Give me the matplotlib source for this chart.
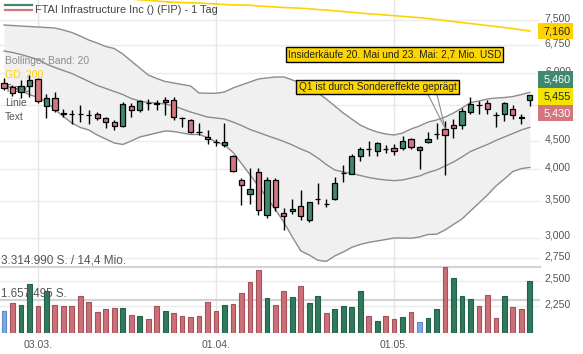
import numpy as np
import matplotlib
matplotlib.use('Agg')
import matplotlib.pyplot as plt
from matplotlib.patches import Rectangle
from matplotlib.lines import Line2D

plt.rcParams['font.family'] = ['Liberation Sans', 'DejaVu Sans']

W, H = 583, 354

# daily candles, 25.02. - 23.05.
opens = [5748, 5667, 5530, 5690, 5850, 5230, 5410, 5065, 5055, 5045, 5030, 5040, 4960, 4890, 4810, 5220,
         5140, 5295, 5280, 5310, 5350, 4962, 4923, 4688, 4590, 4485, 4430, 4230, 3825, 3606, 3955, 3301,
         3830, 3330, 3360, 3430, 3232, 3525, 3460, 3531, 3935, 3930, 4240, 4358, 4320, 4358, 4370, 4370,
         4540, 4345, 4490, 4648, 4740, 4821, 4821, 5095, 5248, 5290, 5032, 5040, 5160, 4978, 5345]
highs = [5876, 5707, 5827, 5950, 5870, 5500, 5550, 5150, 5140, 5245, 5135, 5095, 4990, 4923, 5310, 5290,
         5356, 5375, 5356, 5420, 5430, 4990, 4935, 4856, 4721, 4550, 4856, 4249, 3850, 4020, 4020, 3880,
         3850, 3400, 3525, 3667, 3490, 3780, 3530, 3870, 4080, 4270, 4400, 4510, 4485, 4430, 4445, 4600,
         4570, 4410, 4690, 4856, 4900, 4940, 5170, 5430, 5330, 5356, 5095, 5310, 5245, 5060, 5470]
lows = [5587, 5450, 5405, 5430, 5300, 4960, 5093, 4990, 4850, 4890, 4850, 4923, 4770, 4721, 4790, 4990,
        5090, 5135, 5135, 5028, 4923, 4780, 4670, 4622, 4450, 4420, 4390, 3950, 3440, 3455, 3301, 3255,
        3360, 3099, 3320, 3230, 3210, 3455, 3410, 3516, 3800, 3920, 4150, 4225, 4225, 4290, 4250, 4340,
        4350, 4010, 4460, 4545, 3906, 4560, 4740, 5060, 5040, 5060, 4790, 4905, 4940, 4850, 5220]
closes = [5627, 5507, 5683, 5827, 5327, 5410, 5135, 5058, 5048, 5040, 5025, 4960, 4880, 4810, 5265, 5140,
          5340, 5290, 5275, 5350, 4990, 4955, 4690, 4680, 4540, 4480, 4495, 3975, 3745, 3680, 3371, 3830,
          3410, 3290, 3385, 3280, 3480, 3530, 3455, 3780, 3940, 4240, 4360, 4355, 4470, 4355, 4320, 4510,
          4400, 4400, 4545, 4650, 4622, 4755, 5120, 5265, 5245, 5160, 5028, 5290, 5028, 4975, 5460]
volume_mio = [1.11, 1.49, 1.39, 2.45, 1.36, 2.09, 1.41, 1.36, 1.36, 1.86, 1.58, 1.08, 1.21, 1.24, 1.26, 0.91,
              0.88, 0.71, 1.36, 1.11, 1.00, 0.86, 0.83, 0.86, 1.56, 1.11, 1.41, 1.44, 1.99, 2.55, 3.15, 1.74,
              1.41, 2.12, 1.81, 2.37, 1.53, 1.87, 1.00, 1.21, 1.36, 1.29, 2.11, 0.86, 0.61, 0.86, 0.71, 0.81,
              1.06, 0.56, 0.75, 1.23, 3.28, 2.74, 1.87, 1.71, 1.36, 1.91, 0.78, 1.86, 1.33, 1.21, 2.60]

# Bollinger band (20) and GD 200
bb_upper = [7344, 7329, 7313, 7298, 7283, 7267, 7252, 7191, 7116, 7011, 6894, 6808, 6709, 6653, 6501, 6312,
            6129, 5951, 5864, 5791, 5754, 5718, 5682, 5517, 5510, 5510, 5540, 5634, 5706, 5778, 5852, 5876,
            5901, 5901, 5827, 5754, 5634, 5517, 5379, 5223, 5071, 4944, 4821, 4741, 4681, 4642, 4622, 4661,
            4741, 4801, 4882, 4923, 4985, 5071, 5179, 5300, 5334, 5379, 5401, 5412, 5435, 5481, 5531]
bb_middle = [6583, 6542, 6487, 6419, 6351, 6232, 6142, 6064, 5989, 5889, 5791, 5694, 5623, 5552, 5482, 5390,
             5334, 5301, 5289, 5267, 5223, 5157, 5092, 5039, 4986, 4965, 4944, 4882, 4811, 4731, 4672, 4612,
             4555, 4498, 4432, 4358, 4295, 4196, 4083, 3989, 3956, 3931, 3898, 3866, 3841, 3825, 3814, 3825,
             3857, 3890, 3948, 3989, 4057, 4126, 4214, 4313, 4377, 4441, 4517, 4584, 4652, 4721, 4775]
bb_lower = [5706, 5635, 5564, 5482, 5413, 5312, 5146, 4997, 4862, 4771, 4721, 4622, 4545, 4470, 4441, 4507,
            4584, 4622, 4662, 4701, 4691, 4662, 4632, 4632, 4574, 4488, 4432, 4296, 4100, 3911, 3729, 3549,
            3378, 3202, 3009, 2837, 2788, 2729, 2715, 2778, 2825, 2880, 2916, 2941, 2959, 2977, 2996, 2996,
            2993, 3009, 3041, 3044, 3099, 3172, 3246, 3357, 3472, 3591, 3729, 3841, 3964, 4013, 4033]
gd200 = [8560, 8530, 8500, 8470, 8440, 8410, 8380, 8350, 8320, 8300, 8280, 8260, 8245, 8228, 8210, 8190,
         8168, 8150, 8125, 8100, 8083, 8073, 8063, 8057, 8040, 8023, 8006, 7995, 7989, 7982, 7955, 7939,
         7922, 7905, 7895, 7882, 7862, 7839, 7823, 7796, 7773, 7750, 7724, 7701, 7682, 7660, 7640, 7618,
         7595, 7573, 7547, 7516, 7484, 7453, 7421, 7390, 7359, 7328, 7298, 7267, 7236, 7197, 7160]

date_ticks = [4, 25, 46]
date_labels = ['03.03.', '01.04.', '01.05.']
price_grid = [2250, 2500, 2750, 3000, 3500, 4000, 4500, 5250, 6000, 6750, 7500]
price_labels = [2250, 2500, 2750, 3000, 3500, 4000, 4500, 6000, 6750, 7500]  # 5,250 sits under the quote boxes
vol_max = 3.31499

quotes = [('5,460', '#3f8a6e', 'white'), ('5,455', '#f2e600', '#222222'), ('5,430', '#d3767f', 'white')]

green = '#3f8a6e'
red = '#d3767f'
txt = '#555555'

fig = plt.figure(figsize=(W / 100, H / 100), dpi=100)
ax = fig.add_axes([0, 20 / H, 540 / W, 334 / H])
ax.set_yscale('log')
ax.set_ylim(2000, 8160)
ax.set_xlim(-0.47, 63.2)
for s in ax.spines.values():
    s.set_visible(False)
ax.set_xticks([])
ax.set_yticks([])
ax.set_yticks([], minor=True)

x = np.arange(len(closes))

for p in price_grid:
    ax.axhline(p, color='#ebebeb', lw=1, zorder=0)
for t in date_ticks:
    ax.axvline(t, color='#e6e6e6', lw=1, zorder=0)

# bollinger band
ax.fill_between(x, bb_lower, bb_upper, color='#f0f0f0', lw=0, zorder=1)
for band in [bb_upper, bb_middle, bb_lower]:
    ax.plot(x, band, color='#8c8c8c', lw=1, zorder=2)

ax.plot(x, gd200, color='#ffd200', lw=1.2, zorder=2)

# legend texts on the left, below the candles
ax.text(5 / W, 1 - 61 / H, 'Bollinger Band: 20', transform=fig.transFigure, color='#8c8c8c', fontsize=7.4,
        va='center', zorder=2.5)
ax.text(5 / W, 1 - 74.5 / H, 'GD: 200', transform=fig.transFigure, color='#ffd200', fontsize=7.4,
        va='center', zorder=2.5)
for lbl, yy in [('Trend', 89), ('Linie', 103), ('Text', 117)]:
    ax.text(5 / W, 1 - yy / H, lbl, transform=fig.transFigure, color=txt, fontsize=7.4, va='center', zorder=2.5)

# candles
ax.vlines(x, lows, highs, color='black', lw=1, zorder=3)
body_bottom = [min(o, c) for o, c in zip(opens, closes)]
body_height = [abs(c - o) for o, c in zip(opens, closes)]
body_color = [green if c > o else red for o, c in zip(opens, closes)]
ax.bar(x, body_height, bottom=body_bottom, width=0.62, color=body_color, edgecolor='black', lw=0.9, zorder=4)

# volume panel
vax = fig.add_axes([0, 20.7 / H, 540 / W, 66.6 / H])
vax.patch.set_alpha(0)
vax.set_xlim(-0.47, 63.2)
vax.set_ylim(0, vol_max)
for s in vax.spines.values():
    s.set_visible(False)
vax.set_xticks([])
vax.set_yticks([])
vcol, vedge = [], []
for i in range(len(closes)):
    if i == 0 or closes[i] == closes[i - 1]:
        vcol.append('#7fa8e6'); vedge.append('#5f88c6')
    elif closes[i] > closes[i - 1]:
        vcol.append('#2f7a5c'); vedge.append('#24604a')
    else:
        vcol.append('#cc6f79'); vedge.append('#a4515a')
vax.bar(x, volume_mio, width=0.56, color=vcol, edgecolor=vedge, lw=0.8, zorder=3)
vax.axhline(vol_max, color='#d4d4d4', lw=1.6, zorder=1, clip_on=False)
vax.axhline(vol_max / 2, color='#d4d4d4', lw=1.6, zorder=1)
fig.text(1 / W, 1 - 260.5 / H, '3.314.990 S. / 14,4 Mio.', color=txt, fontsize=8.5, va='center')
fig.text(1 / W, 1 - 294 / H, '1.657.495 S.', color=txt, fontsize=8.4, va='center')

# price axis labels on the right
for p in price_labels:
    ax.annotate(f'{p:,}', xy=(1, p), xycoords=('axes fraction', 'data'), xytext=(31, 2),
                textcoords='offset pixels', ha='right', va='center', fontsize=7.6, color=txt,
                annotation_clip=False)

# date labels
for t, lbl in zip(date_ticks, date_labels):
    ax.annotate(lbl, xy=(t, 0), xycoords=('data', 'axes fraction'), xytext=(0, -11),
                textcoords='offset pixels', ha='center', va='center', fontsize=7.6, color=txt,
                annotation_clip=False)


def px_box(x0, y0, x1, y1, fc):
    fig.add_artist(Rectangle((x0 / W, 1 - y1 / H), (x1 - x0) / W, (y1 - y0) / H, transform=fig.transFigure,
                             fc=fc, ec='none', zorder=5))


# GD 200 value box
gd_y = H - ax.transData.transform((0, gd200[-1]))[1]
px_box(538, gd_y - 8, 573, gd_y + 8, '#ffd200')
fig.text(571 / W, 1 - gd_y / H, f'{gd200[-1]:,}', ha='right', va='center', fontsize=7.8, color='#222222',
         zorder=6)

# quote boxes
for k, (s, fc, tc) in enumerate(quotes):
    y0 = 71.5 + k * 16.6
    px_box(538, y0, 573, y0 + 16.6, fc)
    fig.text(571 / W, 1 - (y0 + 8.3) / H, s, ha='right', va='center', fontsize=7.8, color=tc, zorder=6)

# title + legend icon
fig.add_artist(Line2D([5 / W, 32 / W], [1 - 5 / H, 1 - 5 / H], color=green, lw=1.6))
fig.add_artist(Line2D([5 / W, 32 / W], [1 - 10 / H, 1 - 10 / H], color=red, lw=1.6))
fig.text(35 / W, 1 - 10 / H, 'FTAI Infrastructure Inc () (FIP) - 1 Tag', fontsize=7.9, color='#444444',
         va='center')

# annotations
tip = ax.transData.transform((52, 4760))
for sx in [428, 437]:
    fig.add_artist(Line2D([sx / W, tip[0] / W], [1 - 94.5 / H, tip[1] / H], color='#8c8c8c', lw=0.8,
                          zorder=4))
box_style = dict(boxstyle='square,pad=0.22', fc='#ffd700', ec='black', lw=1)
fig.text(394.5 / W, 1 - 54.5 / H, 'Insiderkäufe 20. Mai und 23. Mai: 2,7 Mio. USD', ha='center', va='center',
         fontsize=7.3, color='#222222', bbox=box_style, zorder=6)
fig.text(377.5 / W, 1 - 87.2 / H, 'Q1 ist durch Sondereffekte geprägt', ha='center', va='center',
         fontsize=7.3, color='#222222', bbox=box_style, zorder=6)

fig.savefig('out.png', dpi=100)
